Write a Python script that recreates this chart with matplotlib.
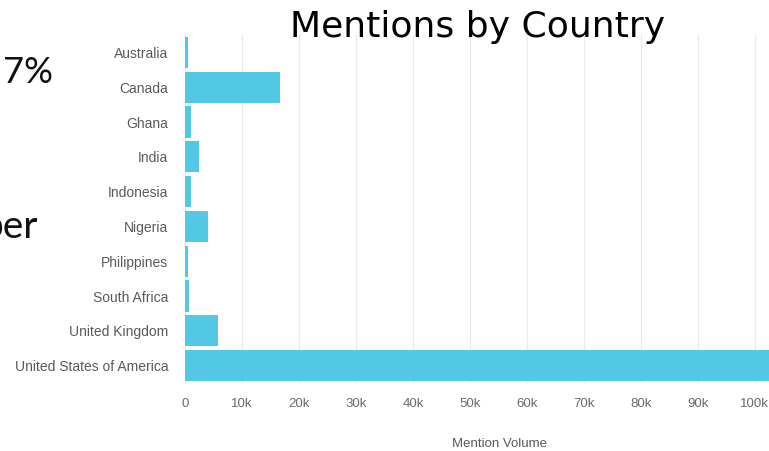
import matplotlib.pyplot as plt

countries = ['Australia', 'Canada', 'Ghana', 'India', 'Indonesia', 'Nigeria',
             'Philippines', 'South Africa', 'United Kingdom', 'United States of America']
mentions = [500, 16700, 1000, 2400, 1000, 4000, 500, 700, 5800, 110000]
xticks = [0, 10000, 20000, 30000, 40000, 50000, 60000, 70000, 80000, 90000, 100000]
xticklabels = ['0', '10k', '20k', '30k', '40k', '50k', '60k', '70k', '80k', '90k', '100k']

W, H = 769, 451
fig = plt.figure(figsize=(W / 100, H / 100), dpi=100)

# plot area in pixel terms: left 185, right edge of image, top 35, bottom 383
ax = fig.add_axes([185 / W, 1 - 383 / H, (W - 185) / W, (383 - 35) / H])
ax.barh(range(len(countries)), mentions, height=0.9, color='#52c8e5', zorder=2)
ax.set_ylim(len(countries) - 0.5, -0.5)
ax.set_xlim(0, 102500)
ax.set_yticks(range(len(countries)))
ax.set_yticklabels(countries, family='Liberation Sans', fontsize=10, color='#5a5a5a')
ax.set_xticks(xticks)
ax.set_xticklabels(xticklabels, family='Liberation Sans', fontsize=9.5, color='#6a6a6a')
ax.tick_params(axis='y', length=0, pad=12)
ax.tick_params(axis='x', length=0, pad=11)
ax.grid(axis='x', color='#e8e8e8', linewidth=0.8, zorder=0)
for s in ax.spines.values():
    s.set_visible(False)
ax.set_xlabel('Mention Volume', family='Liberation Sans', fontsize=9.5, color='#5a5a5a')
ax.xaxis.set_label_coords((500 - 185) / (W - 185), -0.158)

# slide title and the clipped text from the neighbouring slide column
fig.text(478 / W, 1 - 27 / H, 'Mentions by Country', ha='center', va='center',
         family='DejaVu Sans', fontsize=26, color='black')
fig.text(53 / W, 1 - 83 / H, '7%', ha='right', va='baseline',
         family='Lato', fontsize=26, color='#111111')
fig.text(38 / W, 1 - 238 / H, 'per', ha='right', va='baseline',
         family='Lato', fontsize=28, color='#111111')

fig.savefig('out.png', dpi=100)
